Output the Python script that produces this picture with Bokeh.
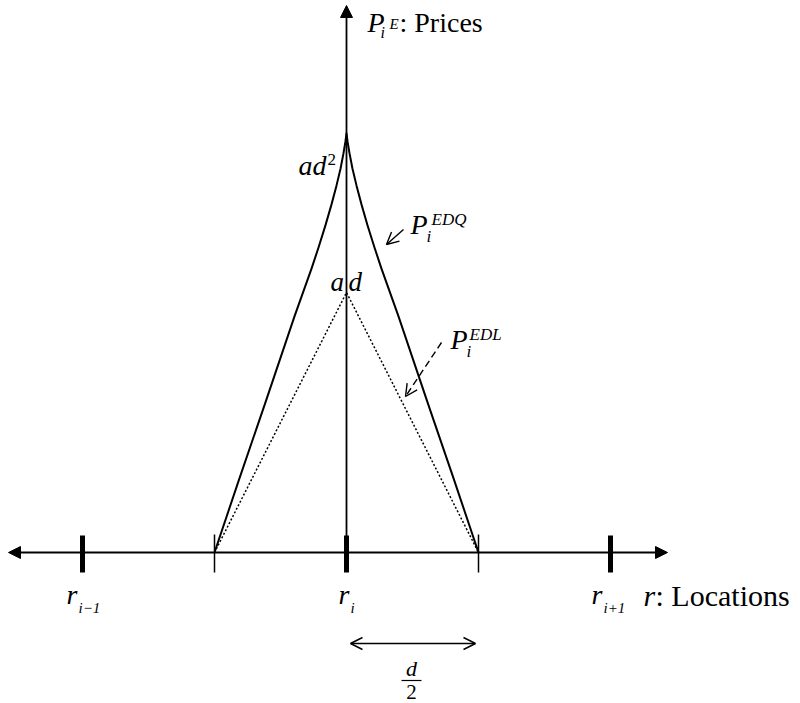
from bokeh.plotting import figure
from bokeh.models import Range1d, Arrow, NormalHead, OpenHead
from bokeh.core.properties import value
from bokeh.embed import file_html
from bokeh.resources import INLINE

# Store locations on the line, in units of d/2 (r_i at the origin)
store_locations = [-2.0, 0.0, 2.0]
store_subscripts = ["i\u22121", "i", "i+1"]
# Market boundaries halfway between neighbouring stores
market_bounds = [-1.0, 1.0]

# Linear delivered price schedule P_i^EDL, in units of a*d
edl_location = [-1.0, 0.0, 1.0]
edl_price = [0.0, 1.0, 0.0]

# Quadratic delivered price schedule P_i^EDQ: distance from r_i and price
edq_distance = [0.0, 0.008, 0.023, 0.045, 0.076, 0.114, 0.159, 0.212, 0.265,
                0.394, 0.621, 0.811, 1.0]
edq_price = [1.612, 1.581, 1.535, 1.477, 1.411, 1.338, 1.259, 1.173, 1.092,
             0.908, 0.567, 0.285, 0.0]

# screen geometry: origin (r_i, 0) and unit sizes in pixels
W, H = 800, 703
OX, OY = 346, 552
UX, UY = 132.0, 260.0


def dx(px):
    return (px - OX) / UX


def dy(py):
    return (OY - py) / UY


p = figure(width=W, height=H, output_backend="svg", toolbar_location=None,
           x_range=Range1d(dx(0), dx(W)), y_range=Range1d(dy(H), dy(0)),
           x_axis_type=None, y_axis_type=None, min_border=0)
p.grid.visible = False
p.outline_line_color = None
p.background_fill_color = "white"
p.border_fill_color = "white"

# axes drawn as arrows
p.add_layout(Arrow(start=NormalHead(size=12, fill_color="black", line_color="black"),
                   end=NormalHead(size=12, fill_color="black", line_color="black"),
                   x_start=dx(8), y_start=0, x_end=dx(667), y_end=0, line_width=1.8))
p.add_layout(Arrow(end=NormalHead(size=12, fill_color="black", line_color="black"),
                   x_start=0, y_start=0, x_end=0, y_end=dy(5), line_width=1.8))

# store ticks (thick) and market boundary ticks (thin)
p.segment(x0=store_locations, y0=17 / UY, x1=store_locations, y1=-20 / UY,
          line_width=5, line_color="black", line_cap="butt")
p.segment(x0=market_bounds, y0=18 / UY, x1=market_bounds, y1=-20 / UY,
          line_width=1.5, line_color="black", line_cap="butt")

# price schedules
edq_x = [-d for d in reversed(edq_distance)] + edq_distance[1:]
edq_y = list(reversed(edq_price)) + edq_price[1:]
p.line(edq_x, edq_y, line_width=2, line_color="black", line_join="round")
p.line(edl_location, edl_price, line_width=1.5, line_color="black", line_dash="2 2")

# pointer arrows for the schedule labels
p.add_layout(Arrow(end=OpenHead(size=12, line_width=1.4), x_start=dx(403), y_start=dy(229),
                   x_end=dx(386), y_end=dy(244), line_width=1.4))
p.add_layout(Arrow(end=OpenHead(size=12, line_width=1.4), x_start=dx(441), y_start=dy(342),
                   x_end=dx(405), y_end=dy(396), line_width=1.4, line_dash="7 4"))

# d/2 span
p.add_layout(Arrow(start=OpenHead(size=12, line_width=1.4), end=OpenHead(size=12, line_width=1.4),
                   x_start=dx(350), y_start=dy(643), x_end=dx(475), y_end=dy(643), line_width=1.4))
p.segment(x0=[dx(401)], y0=[dy(680)], x1=[dx(421)], y1=[dy(680)], line_width=1.2, line_color="black")

FONT = "Liberation Serif"


def label(x, y, text, size, italic=True, align="left"):
    # y is the wanted baseline; the svg text sits about 0.31 em lower
    p.text(x=[dx(x)], y=[dy(y - 0.31 * size)], text=[text], text_font=value(FONT),
           text_font_size=f"{size}px", text_font_style="italic" if italic else "normal",
           text_align=align, text_baseline="alphabetic", text_color="black")


# vertical axis title
label(367, 31, "P", 28)
label(380, 37, "i", 16)
label(389, 28, "E", 15)
label(399, 31, ": Prices", 28, italic=False)

# horizontal axis title
label(643, 604, "r", 30)
label(655, 604, ": Locations", 30, italic=False)

# store labels, each group centred under its tick
for loc, sub, left in zip(store_locations, store_subscripts, [-16, -8, -19]):
    xp = OX + loc * UX
    label(xp + left, 603, "r", 28)
    label(xp + left + 12, 612, sub, 15)

# peak labels
label(298, 174, "ad", 28)
label(327, 164, "2", 17, italic=False)
label(330, 290, "a", 27)
label(348, 290, "d", 27)

# schedule labels
label(410, 233, "P", 28)
label(426, 241, "i", 17)
label(431, 224, "EDQ", 17)
label(450, 348, "P", 28)
label(466, 356, "i", 17)
label(469, 339, "EDL", 17)

# d/2 fraction
label(411, 675, "d", 22, align="center")
label(411, 698, "2", 21, italic=False, align="center")

open("out.html", "w").write(file_html(p, INLINE))
